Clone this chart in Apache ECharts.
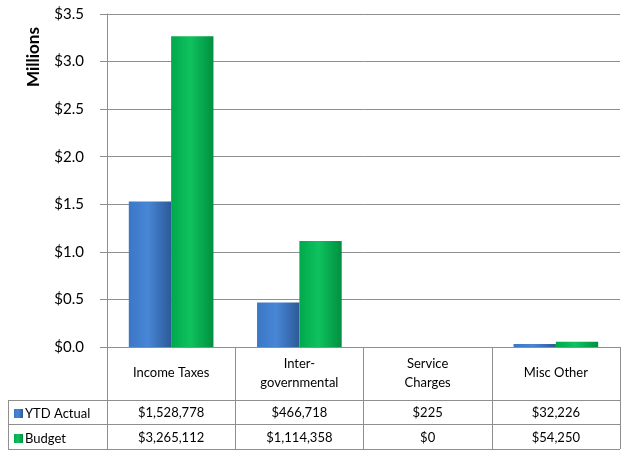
<!doctype html>
<html lang="en">
<head>
<meta charset="UTF-8">
<title>Revenue vs Budget</title>
<script src="https://cdn.jsdelivr.net/npm/echarts@6/dist/echarts.min.js"></script>
<style>
  html, body { margin: 0; padding: 0; background: #fff; }
  #chart { width: 623px; height: 452px; }
</style>
</head>
<body>
<div id="chart"></div>
<script type="text/javascript">
    // data
    var categories = ['Income Taxes', 'Inter-\ngovernmental', 'Service\nCharges', 'Misc Other'];
    var ytd_actual = [1528778, 466718, 225, 32226];
    var budget = [3265112, 1114358, 0, 54250];

    var FONT = 'Lato, "Liberation Sans", sans-serif';
    var GRID_COLOR = '#8f8f8f';

    function money(v) {
        return '$' + v.toLocaleString('en-US');
    }
    function millions(arr) {
        return arr.map(function (v) { return v / 1e6; });
    }

    var blueFill = new echarts.graphic.LinearGradient(0, 0, 1, 0, [
        {offset: 0, color: '#3a77c6'},
        {offset: 0.45, color: '#4886d6'},
        {offset: 1, color: '#2c5a98'}
    ]);
    var greenFill = new echarts.graphic.LinearGradient(0, 0, 1, 0, [
        {offset: 0, color: '#00a84c'},
        {offset: 0.45, color: '#0fc25e'},
        {offset: 1, color: '#009040'}
    ]);

    var chart = echarts.init(document.getElementById('chart'));

    var tableRowAxis = function (values, margin) {
        return {
            type: 'category',
            gridIndex: 0,
            position: 'bottom',
            data: values.map(money),
            axisLine: {show: false},
            axisTick: {show: false},
            splitLine: {show: false},
            axisLabel: {
                interval: 0,
                margin: margin,
                verticalAlign: 'middle',
                fontFamily: FONT,
                fontSize: 13,
                color: '#000'
            }
        };
    };

    var legendText = {fontFamily: FONT, fontSize: 13, color: '#000', padding: [0, 0, 0, -3]};

    var option = {
        animation: false,
        textStyle: {fontFamily: FONT},
        grid: {left: 107, right: 3, top: 14, bottom: 105},
        legend: [
            {
                data: ['YTD Actual'], left: 9, top: 402, icon: 'rect',
                itemWidth: 9, itemHeight: 9, selectedMode: false, textStyle: legendText
            },
            {
                data: ['Budget'], left: 9, top: 427, icon: 'rect',
                itemWidth: 9, itemHeight: 9, selectedMode: false, textStyle: legendText
            }
        ],
        xAxis: [
            {
                type: 'category',
                data: categories,
                axisLine: {lineStyle: {color: GRID_COLOR, width: 1}},
                axisTick: {show: true, alignWithLabel: false, length: 102, lineStyle: {color: GRID_COLOR}},
                axisLabel: {
                    interval: 0,
                    margin: 26,
                    verticalAlign: 'middle',
                    lineHeight: 19,
                    fontFamily: FONT,
                    fontSize: 13,
                    color: '#000'
                }
            },
            tableRowAxis(ytd_actual, 66),
            tableRowAxis(budget, 91)
        ],
        yAxis: {
            type: 'value',
            min: 0,
            max: 3.5,
            interval: 0.5,
            axisLine: {show: true, lineStyle: {color: GRID_COLOR}},
            axisTick: {show: true, length: 7, lineStyle: {color: GRID_COLOR}},
            splitLine: {lineStyle: {color: GRID_COLOR, width: 1}},
            axisLabel: {
                margin: 23,
                fontFamily: FONT,
                fontSize: 15,
                color: '#000',
                formatter: function (v) { return '$' + v.toFixed(1); }
            }
        },
        series: [
            {
                name: 'YTD Actual',
                type: 'bar',
                data: millions(ytd_actual),
                barGap: '0%',
                barCategoryGap: '34%',
                itemStyle: {color: blueFill}
            },
            {
                name: 'Budget',
                type: 'bar',
                data: millions(budget),
                itemStyle: {color: greenFill}
            }
        ],
        graphic: [
            {
                type: 'text', x: 34, y: 57, rotation: Math.PI / 2,
                style: {text: 'Millions', font: 'bold 17px ' + FONT, fill: '#000',
                    textAlign: 'center', textVerticalAlign: 'middle'}
            },
            {type: 'line', shape: {x1: 8, y1: 400.5, x2: 620, y2: 400.5}, style: {stroke: GRID_COLOR, lineWidth: 1}},
            {type: 'line', shape: {x1: 8, y1: 424.5, x2: 620, y2: 424.5}, style: {stroke: GRID_COLOR, lineWidth: 1}},
            {type: 'line', shape: {x1: 8, y1: 449.5, x2: 620, y2: 449.5}, style: {stroke: GRID_COLOR, lineWidth: 1}},
            {type: 'line', shape: {x1: 8.5, y1: 400, x2: 8.5, y2: 450}, style: {stroke: GRID_COLOR, lineWidth: 1}}
        ]
    };

    chart.setOption(option);
</script>
</body>
</html>
